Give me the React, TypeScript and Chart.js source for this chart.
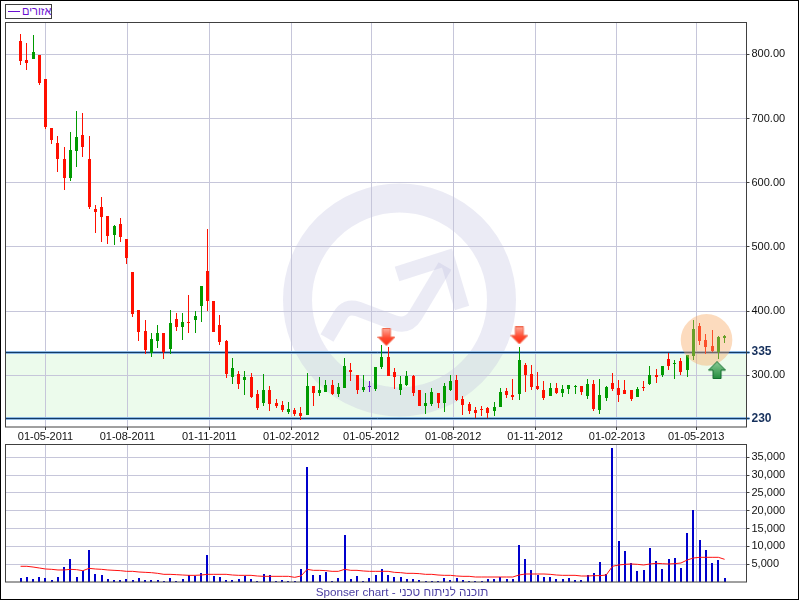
import React, { useEffect, useRef } from "react";
import { Chart, registerables } from "chart.js";

Chart.register(...registerables);

const FIRST_DAY = -28;
const WEEK = 7;

const opens = [820.8,791.2,792.7,799,761.5,684.9,661.5,636.5,606.8,649,674,636.5,558.4,561.5,547.4,517.7,534.9,513,461.5,402.1,369.3,334.9,353.6,366.1,341.1,388,375.5,383.3,386.5,408.3,463,416.1,378.6,353.6,297.4,302.1,292.7,297.4,270.8,256.3,276.6,256.3,253.2,242.2,245.4,240.7,237.5,282.9,271.9,273.5,284.4,270.4,279.7,307.9,300,276.6,282.9,278.2,312.5,328.2,304.7,276.6,284.4,298.5,276.6,251.6,254.7,271.9,256.3,276.6,292.2,262.5,254.7,245.4,246.9,248.5,243.8,250,275,268.8,270.4,316.1,302.1,283.3,277.1,267.7,280.2,272.4,278.6,282.3,283.3,267.7,286.4,245.8,264.6,288,280.2,277.1,277.1,266.1,281.8,286.4,300.5,300.5,325.5,318.2,322.4,308.3,330.2,377.1,355.2,345.8,336.5,358.3];
const closes = [789.6,786.5,803.7,755.2,686.5,666.2,636.5,606.8,650.5,670.8,655.2,561.5,553.7,545.9,516.2,531.8,514.6,483.3,395.8,367.7,339.6,356.8,366.1,336.5,381.8,375.5,383.3,381.8,392.7,439.6,416.1,367.7,352,302.1,311.5,286.5,297.4,266.2,249,276.6,254.7,251.6,245.4,246.9,239.1,236,282.9,271.9,276.6,284.4,270.4,281.3,314.1,304.7,276.6,281.3,282.9,312.5,328.2,298.5,296.9,286,298.5,271.9,251.6,256.3,273.5,256.3,282.9,290.7,261,253.2,243.8,240.7,245.4,240.7,250,273.5,268.8,265.7,323.5,300.5,281.8,278.6,264.6,280.2,272.4,278.6,284.9,283.3,274,286.4,247.4,269.3,281.8,278.6,269.3,270.8,263,278.6,280.2,300.5,297.4,314.6,314.6,319.3,305.2,331.8,372.4,353.6,344.3,338,359.9,361.5];
const highs = [831.8,817.7,830.2,799,761.5,684.9,672.4,655.2,678.7,711.5,708.4,672.4,566,577.1,547.4,533.3,544.3,513,461.5,402.1,386.5,366.1,378.6,366.1,402.1,397.4,397.4,425.5,400.5,439.6,528.6,416.1,394.3,355.2,327.1,306.8,306.8,303.6,277.1,301.6,282.9,262.5,259.4,257.9,248.5,250,303.2,282.9,296.9,292.2,292.2,287.5,326.6,318.8,300,300,290.7,312.5,346.9,343.8,311,298.5,306.3,300,276.6,271.9,279.7,271.9,287.5,300,300,267.2,257.9,250,251.6,250,257.9,279.7,279.7,293.8,343.8,319.3,316.1,305.2,291.1,288,288,284.9,284.9,284.9,283.3,294.3,292.7,294.3,283.3,303.6,292.7,292.7,277.1,281.8,291.1,314.6,309.9,314.6,334.9,324,327.1,331.8,386.5,381.8,364.6,370.8,361.5,363];
const lows = [783.3,775.5,792.7,752,683.3,660,616.2,588,602.1,624,639.6,558.4,520.9,506.8,505.2,503.6,506.8,474,391.1,353.6,333.3,328.6,342.7,325.5,333.3,369.3,355.2,366.1,366.1,383.3,400.5,367.7,347.4,295.8,286.5,278.6,269.3,264.6,245.8,251.6,243.8,248.5,242.2,239.1,236,229.7,237.5,251.6,267.2,273.5,268.8,265.7,279.7,290.7,270.4,273.5,273.5,275,309.4,298.5,278.2,268.8,282.9,267.2,251.6,239.1,251.6,248.5,242.2,275,259.4,237.5,239.1,232.9,236,232.9,236,250,264.1,261,261,273.9,277.1,277.1,261.4,267.7,270.8,266.1,270.8,270.8,269.3,263,244.3,239.6,259.9,275.5,258.3,270.8,259.9,266.1,275.5,284.9,288,297.4,308.3,294.3,300.5,297.4,323.9,347.4,333.3,336.5,325.5,350.5];
const volumes = [1100,1400,850,1400,1100,560,1400,4200,6450,1400,3100,9000,2250,1950,850,560,560,850,560,1100,560,560,560,280,1100,280,850,1950,1700,2500,7600,1700,1400,560,560,850,1700,850,280,2250,1950,280,560,280,280,3650,32250,1950,1950,2800,280,1100,13200,850,1700,280,1100,1950,3650,1950,1400,1400,850,850,560,280,280,280,1100,560,1100,560,280,280,280,850,850,1400,850,850,10400,6450,3350,1950,1400,1400,850,850,1100,560,560,1950,2500,5600,2250,37600,11500,8700,5300,3100,3350,9500,5900,3650,6450,6700,3900,13700,20200,11800,9000,5300,6200,1100];
const volumeAverage = [4400,4400,4200,3930,3650,3550,3370,3370,3550,3460,3180,3830,3650,3550,3370,3270,3180,2990,2990,2800,2710,2620,2430,2150,2150,2060,1960,1870,1870,1960,2150,2150,2150,2150,1960,1870,1870,1870,1680,1590,1590,1590,1590,1590,1310,1680,3550,3270,3270,3180,2990,2990,3550,3270,3270,3090,2990,2990,2990,2990,2710,2620,2430,2430,2340,2150,2150,1960,1870,1870,1680,1590,1590,1400,1400,1400,1400,1400,1400,1400,1960,2240,2240,2240,2240,2150,1960,1870,1870,1870,1680,1680,1780,1780,1960,4400,4770,4960,5050,4960,4770,5050,5240,5140,5050,5140,5330,6170,6730,6920,6920,6920,6920,6360];

const dateDays = [0, 92, 184, 276, 366, 458, 550, 642, 731];
const dateLabels = ["01-05-2011","01-08-2011","01-11-2011","01-02-2012","01-05-2012","01-08-2012","01-11-2012","01-02-2013","01-05-2013"];
const priceTicks = [300, 400, 500, 600, 700, 800];
const volumeTicks = [5000, 10000, 15000, 20000, 25000, 30000, 35000];

const zoneHigh = 336;
const zoneLow = 232.5;
const zoneHighLabel = "335";
const zoneLowLabel = "230";

const sellDays = [383, 532.4];
const sellPrices = [359.4, 362];
const buyDays = [754.5];
const buyPrices = [307.8];
const highlightDays = [742.7];
const highlightPrices = [355];

const legendLabel = "אזורים";
const footerLabel = "Sponser chart - תוכנה לניתוח טכני";

const FONT = '"Liberation Sans", Arial, sans-serif';
const GRID = "#c6c6da";
const FRAME = "#404040";
const X_MIN = -44.94;
const X_MAX = 787.6;

const xOf = (i: number) => FIRST_DAY + WEEK * i;

function arrowCanvas(up: boolean) {
  const c = document.createElement("canvas");
  c.width = 18;
  c.height = 18;
  const g = c.getContext("2d")!;
  if (up) {
    g.translate(0, 18);
    g.scale(1, -1);
  }
  const grad = g.createLinearGradient(0, 0, 0, 18);
  if (up) {
    grad.addColorStop(0, "#1f8a3a");
    grad.addColorStop(1, "#8fce9a");
  } else {
    grad.addColorStop(0, "#ffb0a0");
    grad.addColorStop(0.55, "#ff4a30");
    grad.addColorStop(1, "#ff2a10");
  }
  g.beginPath();
  g.moveTo(5, 0.5);
  g.lineTo(13, 0.5);
  g.lineTo(13, 9);
  g.lineTo(17.5, 9);
  g.lineTo(9, 17.5);
  g.lineTo(0.5, 9);
  g.lineTo(5, 9);
  g.closePath();
  g.fillStyle = grad;
  g.fill();
  g.lineWidth = 1;
  g.strokeStyle = up ? "#0f6a2a" : "#f06a50";
  g.stroke();
  return c;
}

const framePlugin = {
  id: "frame",
  afterDraw(chart: any) {
    const { ctx, chartArea: a } = chart;
    ctx.save();
    ctx.strokeStyle = FRAME;
    ctx.lineWidth = 1;
    ctx.strokeRect(a.left, a.top, a.right - a.left, a.bottom - a.top);
    ctx.restore();
  },
};

const snapBars = (width: (x: number) => number) => ({
  id: "snapBars",
  beforeDatasetsDraw(chart: any) {
    chart.data.datasets.forEach((ds: any, i: number) => {
      if (ds.type !== "bar") return;
      chart.getDatasetMeta(i).data.forEach((el: any) => {
        el.x = width(el.x);
        const top = Math.round(el.y);
        let base = Math.round(el.base);
        if (base === top) base = top + 1;
        el.y = top;
        el.base = base;
      });
    });
  },
});

const backdropPlugin = {
  id: "backdrop",
  beforeDraw(chart: any) {
    const { ctx, chartArea: a, scales } = chart;
    const hi = scales.y.getPixelForValue(zoneHigh);
    const lo = scales.y.getPixelForValue(zoneLow);
    ctx.save();
    ctx.fillStyle = "#ecfbec";
    ctx.fillRect(a.left, hi, a.right - a.left, lo - hi);
    const tint = "rgba(190,190,222,0.3)";
    const cx = 399.5;
    const cy = 300;
    ctx.strokeStyle = tint;
    ctx.lineWidth = 29;
    ctx.beginPath();
    ctx.arc(cx, cy, 102, 0, Math.PI * 2);
    ctx.stroke();
    ctx.lineWidth = 15;
    ctx.lineJoin = "round";
    ctx.beginPath();
    ctx.moveTo(327, 338);
    ctx.lineTo(340, 316);
    ctx.quadraticCurveTo(346, 305, 358, 309);
    ctx.lineTo(395, 323);
    ctx.quadraticCurveTo(408, 327, 415, 316);
    ctx.lineTo(445, 266);
    ctx.stroke();
    ctx.lineJoin = "miter";
    ctx.beginPath();
    ctx.moveTo(397, 274);
    ctx.lineTo(447, 258);
    ctx.lineTo(462, 308);
    ctx.stroke();
    ctx.restore();
  },
  beforeDatasetsDraw(chart: any) {
    const { ctx, chartArea: a, scales } = chart;
    [zoneHigh, zoneLow].forEach((v) => {
      const y = Math.round(scales.y.getPixelForValue(v)) + 0.5;
      ctx.save();
      ctx.strokeStyle = "#8db9e4";
      ctx.lineWidth = 3;
      ctx.beginPath();
      ctx.moveTo(a.left, y);
      ctx.lineTo(a.right + 3, y);
      ctx.stroke();
      ctx.strokeStyle = "#123a66";
      ctx.lineWidth = 1;
      ctx.beginPath();
      ctx.moveTo(a.left, y);
      ctx.lineTo(a.right + 3, y);
      ctx.stroke();
      ctx.restore();
    });
  },
};

const noPad = (s: any) => {
  s.paddingLeft = 0;
  s.paddingRight = 0;
  s.paddingTop = 0;
  s.paddingBottom = 0;
};
const fixedWidth = (w: number) => (s: any) => {
  s.width = w;
  noPad(s);
};
const fixedHeight = (h: number) => (s: any) => {
  s.height = h;
  noPad(s);
};

export default function App() {
  const priceRef = useRef<HTMLCanvasElement>(null);
  const volumeRef = useRef<HTMLCanvasElement>(null);

  useEffect(() => {
    const tickFont = { family: FONT, size: 11 };
    const candleColor = opens.map((o, i) =>
      closes[i] > o ? "#009a00" : closes[i] < o ? "#ff0f00" : "#6a10d0"
    );
    const priceChart = new Chart(priceRef.current!, {
      type: "bar",
      plugins: [backdropPlugin, framePlugin, snapBars((x) => Math.floor(x) + 0.5)],
      data: {
        datasets: [
          {
            type: "bar",
            label: "wick",
            data: highs.map((h, i) => ({ x: xOf(i), y: [lows[i], h] })),
            backgroundColor: candleColor,
            barThickness: 1,
            inflateAmount: 0,
            grouped: false,
            order: 5,
          },
          {
            type: "bar",
            label: "body",
            data: opens.map((o, i) => ({ x: xOf(i), y: [Math.min(o, closes[i]), Math.max(o, closes[i])] })),
            backgroundColor: candleColor,
            barThickness: 3,
            inflateAmount: 0,
            grouped: false,
            order: 4,
          },
          {
            type: "line",
            label: "highlight",
            data: highlightDays.map((x, i) => ({ x, y: highlightPrices[i] })),
            showLine: false,
            pointRadius: 25.8,
            pointBorderWidth: 0,
            pointBackgroundColor: "rgba(249,170,100,0.42)",
            clip: false,
            order: 2,
          },
          {
            type: "line",
            label: "sell",
            data: sellDays.map((x, i) => ({ x, y: sellPrices[i] })),
            showLine: false,
            pointStyle: arrowCanvas(false),
            clip: false,
            order: 1,
          },
          {
            type: "line",
            label: "buy",
            data: buyDays.map((x, i) => ({ x, y: buyPrices[i] })),
            showLine: false,
            pointStyle: arrowCanvas(true),
            clip: false,
            order: 1,
          },
        ] as any,
      },
      options: {
        responsive: false,
        animation: false,
        devicePixelRatio: 1,
        layout: { autoPadding: false, padding: { left: 5.5, top: 22.5, right: 0, bottom: 0 } },
        plugins: { legend: { display: false }, tooltip: { enabled: false } },
        scales: {
          x: {
            type: "linear",
            min: X_MIN,
            max: X_MAX,
            offset: false,
            afterFit: fixedHeight(17),
            afterBuildTicks: (s: any) => {
              s.ticks = dateDays.map((value) => ({ value }));
            },
            grid: { offset: false, color: GRID, tickColor: FRAME, tickLength: 3 },
            border: { display: false },
            ticks: {
              autoSkip: false,
              maxRotation: 0,
              padding: 0,
              color: "#111",
              font: tickFont,
              callback: (v: any) => dateLabels[dateDays.indexOf(v)],
            },
          },
          y: {
            position: "right",
            min: 219.2,
            max: 849.7,
            afterFit: fixedWidth(53.5),
            afterBuildTicks: (s: any) => {
              s.ticks = [zoneLow, ...priceTicks.slice(0, 1), zoneHigh, ...priceTicks.slice(1)].map((value) => ({ value }));
            },
            grid: {
              color: (c: any) => (c.tick && (c.tick.value === zoneHigh || c.tick.value === zoneLow) ? "rgba(0,0,0,0)" : GRID),
              tickColor: FRAME,
              tickLength: 3,
            },
            border: { display: false },
            ticks: {
              autoSkip: false,
              padding: 2,
              color: (c: any) => (c.tick.value === zoneHigh || c.tick.value === zoneLow ? "#16305c" : "#111"),
              font: (c: any) =>
                c.tick && (c.tick.value === zoneHigh || c.tick.value === zoneLow)
                  ? { family: FONT, size: 12, weight: "bold" }
                  : tickFont,
              callback: (v: any) =>
                v === zoneHigh ? zoneHighLabel : v === zoneLow ? zoneLowLabel : Number(v).toFixed(2),
            },
          },
        },
      } as any,
    });

    const volumeChart = new Chart(volumeRef.current!, {
      type: "bar",
      plugins: [framePlugin, snapBars((x) => Math.round(x))],
      data: {
        datasets: [
          {
            type: "line",
            label: "average",
            data: volumeAverage.map((y, i) => ({ x: xOf(i), y })),
            borderColor: "#ff1010",
            borderWidth: 1,
            pointRadius: 0,
            tension: 0,
            order: 1,
          },
          {
            type: "bar",
            label: "volume",
            data: volumes.map((y, i) => ({ x: xOf(i), y })),
            backgroundColor: "#0000cc",
            barThickness: 2,
            inflateAmount: 0,
            grouped: false,
            order: 2,
          },
        ] as any,
      },
      options: {
        responsive: false,
        animation: false,
        devicePixelRatio: 1,
        layout: { autoPadding: false, padding: { left: 5.5, top: 4.5, right: 0, bottom: 18 } },
        plugins: { legend: { display: false }, tooltip: { enabled: false } },
        scales: {
          x: {
            type: "linear",
            min: X_MIN,
            max: X_MAX,
            offset: false,
            afterBuildTicks: (s: any) => {
              s.ticks = dateDays.map((value) => ({ value }));
            },
            afterFit: fixedHeight(0),
            grid: { offset: false, color: GRID, drawTicks: false },
            border: { display: false },
            ticks: { display: false },
          },
          y: {
            position: "right",
            min: 0,
            max: 38560,
            afterFit: fixedWidth(53.5),
            afterBuildTicks: (s: any) => {
              s.ticks = volumeTicks.map((value) => ({ value }));
            },
            grid: { color: GRID, tickColor: FRAME, tickLength: 3 },
            border: { display: false },
            ticks: {
              autoSkip: false,
              padding: 2,
              color: "#111",
              font: tickFont,
              callback: (v: any) => Number(v).toLocaleString("en-US"),
            },
          },
        },
      } as any,
    });

    return () => {
      priceChart.destroy();
      volumeChart.destroy();
    };
  }, []);

  return (
    <div style={{ position: "fixed", left: 0, top: 0, width: 800, height: 600, background: "#fff", overflow: "hidden" }}>
      <canvas ref={priceRef} width={800} height={444} style={{ position: "absolute", left: 0, top: 0, width: 800, height: 444 }} />
      <canvas ref={volumeRef} width={800} height={160} style={{ position: "absolute", left: 0, top: 440, width: 800, height: 160 }} />
      <div
        style={{
          position: "absolute",
          left: 5,
          top: 4,
          width: 47,
          height: 15,
          boxSizing: "border-box",
          border: "1px solid #404040",
          background: "#fff",
          font: `11px ${FONT}`,
          color: "#6a10d0",
          lineHeight: "13px",
        }}
      >
        <span style={{ position: "absolute", left: 2, top: 6, width: 12, height: 1, background: "#6a10d0" }} />
        <span style={{ position: "absolute", left: 16, top: 0, whiteSpace: "nowrap" }}>{legendLabel}</span>
      </div>
      <div
        style={{
          position: "absolute",
          left: 0,
          width: 804,
          top: 584,
          textAlign: "center",
          font: `11.7px ${FONT}`,
          color: "#4b3fa3",
          lineHeight: "15px",
          direction: "ltr",
        }}
      >
        {footerLabel}
      </div>
      <div style={{ position: "absolute", left: 0, top: 0, width: 799, height: 600, border: "1px solid #000", boxSizing: "border-box", pointerEvents: "none" }} />
    </div>
  );
}
